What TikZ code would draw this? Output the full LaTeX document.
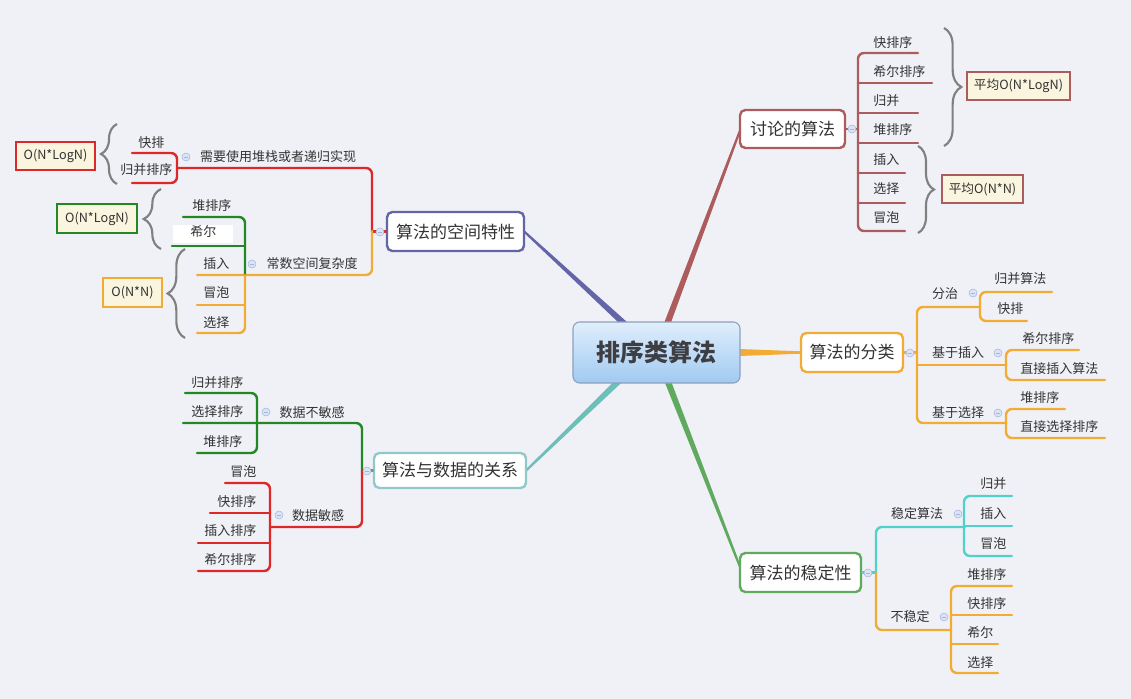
\documentclass[tikz,border=0pt]{standalone}
\usepackage{fontspec}
\setmainfont{Noto Sans CJK SC}
\usetikzlibrary{calc,decorations.pathreplacing}
\definecolor{bgc}{RGB}{240,241,247}
\definecolor{txt}{RGB}{51,51,51}
\definecolor{rtxt}{RGB}{62,62,66}
\definecolor{dred}{RGB}{172,92,92}
\definecolor{purp}{RGB}{100,100,168}
\definecolor{orng}{RGB}{242,172,52}
\definecolor{tealb}{RGB}{145,200,200}
\definecolor{teall}{RGB}{110,190,185}
\definecolor{grn}{RGB}{95,170,95}
\definecolor{red1}{RGB}{222,40,40}
\definecolor{dgrn}{RGB}{35,135,35}
\definecolor{cyan1}{RGB}{80,210,200}
\definecolor{brc}{RGB}{128,128,128}
\definecolor{yel}{RGB}{250,245,222}
\definecolor{colf}{RGB}{218,228,246}
\definecolor{cold}{RGB}{165,182,220}
\definecolor{rootb}{RGB}{140,160,190}
\definecolor{roott}{RGB}{224,238,252}
\definecolor{rootbot}{RGB}{160,202,242}
\pgfdeclarelayer{bg}
\pgfsetlayers{bg,main}
\newcommand\mytaper[5]{%
  \fill[#1] ($(#2)!#4!90:(#3)$) -- ($(#3)!#5!-90:(#2)$) -- ($(#3)!#5!90:(#2)$) -- ($(#2)!#4!-90:(#3)$) -- cycle;}
\begin{document}
\begin{tikzpicture}[x=0.75pt,y=-0.75pt,
 every node/.style={text=txt},
 leaf/.style={anchor=west,inner sep=0pt,font=\fontsize{9.75}{11}\selectfont},
 mid/.style={inner sep=0pt,font=\fontsize{9.75}{11}\selectfont},
 mbox/.style={draw,line width=1.8pt,fill=white,rounded corners=4pt,inner sep=0pt,font=\fontsize{12.75}{15}\selectfont},
 obox/.style={draw,line width=1.8pt,fill=yel,inner sep=0pt,minimum height=21pt,font=\fontsize{9.5}{11}\selectfont},
 col/.style={circle,draw=cold,fill=colf,line width=0.4pt,minimum size=6pt,inner sep=0pt,
   path picture={\draw[cold,line width=0.6pt] ([xshift=1.4pt]path picture bounding box.west) -- ([xshift=-1.4pt]path picture bounding box.east);}},
 tree/.style={line width=1.8pt,rounded corners=4.5pt,line cap=round},
 gbrace/.style={brc,line width=1.6pt,decorate,decoration={brace,amplitude=#1}},
]
\path[use as bounding box] (0,0) rectangle (1131,699);

% root and main topic boxes
\node[draw=rootb,line width=0.8pt,rounded corners=5pt,top color=roott,bottom color=rootbot,
  minimum width=125.25pt,minimum height=45.75pt,inner sep=0pt,
  font=\fontsize{18}{21}\selectfont\bfseries,text=rtxt] (root) at (656.5,352.5) {排序类算法};
\node[mbox,draw=dred,minimum width=78.75pt,minimum height=28.5pt] (disc) at (792.5,129) {讨论的算法};
\node[mbox,draw=purp,minimum width=102.75pt,minimum height=29.25pt] (space) at (455.5,231.5) {算法的空间特性};
\node[mbox,draw=orng,minimum width=76.5pt,minimum height=29.25pt] (cls) at (852,352.5) {算法的分类};
\node[mbox,draw=tealb,minimum width=114pt,minimum height=26.25pt] (data) at (450,470.5) {算法与数据的关系};
\node[mbox,draw=grn,minimum width=90.75pt,minimum height=29.25pt] (stab) at (800.5,572.5) {算法的稳定性};

\begin{pgfonlayer}{bg}
\fill[bgc] (0,0) rectangle (1131,699);
\coordinate (a1) at ($(root.north)+(8.5,8)$);
\coordinate (b1) at ($(disc.west)+(1,2)$);
\coordinate (a2) at ($(root.north)+(-26,8)$);
\coordinate (b2) at ($(space.east)+(-1,0)$);
\coordinate (a3) at ($(root.east)+(-8,0)$);
\coordinate (b3) at ($(cls.west)+(1,0)$);
\coordinate (a4) at ($(root.south)+(-32,-8)$);
\coordinate (b4) at ($(data.east)+(-1,0)$);
\coordinate (a5) at ($(root.south)+(9,-8)$);
\coordinate (b5) at ($(stab.west)+(1,-6)$);
\mytaper{dred}{a1}{b1}{2.4pt}{0.8pt}
\mytaper{purp}{a2}{b2}{2.4pt}{0.8pt}
\mytaper{orng}{a3}{b3}{2.8pt}{0.9pt}
\mytaper{teall}{a4}{b4}{2.4pt}{0.8pt}
\mytaper{grn}{a5}{b5}{2.4pt}{0.8pt}
\end{pgfonlayer}

% ---- 讨论的算法
\draw[tree,dred] (disc.east) -- (858,129);
\draw[tree,dred] (918,53) -- (858,53) -- (858,231) -- (905,231);
\foreach \y/\e in {83/932,113/918,143/918,173/905,203/905} \draw[tree,dred] (858,\y) -- (\e,\y);
\node[col] (c1) at (852,129) {};
\node[leaf] (d1) at (873,43) {快排序};
\node[leaf] (d2) at (873,72) {希尔排序};
\node[leaf] (d3) at (873,101) {归并};
\node[leaf] (d4) at (873,130) {堆排序};
\node[leaf] (d5) at (873,160) {插入};
\node[leaf] (d6) at (873,189) {选择};
\node[leaf] (d7) at (873,218) {冒泡};
\draw[gbrace=13pt] (944,28) -- (944,146);
\draw[gbrace=12pt] (918,146) -- (918,233);
\node[obox,draw=dred,minimum width=77.25pt] (avg1) at (1018.5,86) {平均O(N*LogN)};
\node[obox,draw=dred,minimum width=60.75pt] (avg2) at (982.5,189) {平均O(N*N)};

% ---- 算法的空间特性
\draw[tree,red1] (space.west) -- (372,231.5);
\draw[tree,red1] (177,168) -- (372,168) -- (372,232);
\draw[tree,orng] (372,231) -- (372,275) -- (197,275);
\draw[tree,red1] (132,153) -- (177,153) -- (177,183) -- (132,183);
\draw[tree,dgrn] (183,217) -- (245,217) -- (245,275);
\draw[tree,dgrn] (172,246) -- (245,246);
\draw[tree,orng] (245,275) -- (245,333) -- (197,333);
\draw[tree,orng] (197,305) -- (245,305);
\node[col] (c2) at (186,157) {};
\node[col] (c3) at (252,264) {};
\node[col] (c4) at (380,232) {};
\node[mid] (s0) at (278,157) {需要使用堆栈或者递归实现};
\node[leaf] (s1) at (138,143) {快排};
\node[leaf] (s2) at (120,170) {归并排序};
\node[fill=white,inner sep=0pt,minimum width=45pt,minimum height=13.5pt] (hbg) at (203,234) {};
\node[leaf] (s3) at (192,206) {堆排序};
\node[leaf] (s4) at (190,232) {希尔};
\node[leaf] (s5) at (203,264) {插入};
\node[leaf] (s6) at (203,293) {冒泡};
\node[leaf] (s7) at (203,323) {选择};
\node[mid] (s8) at (312,264) {常数空间复杂度};
\draw[gbrace=12pt] (117,184) -- (117,124);
\draw[gbrace=13pt] (161,249) -- (161,189);
\draw[gbrace=13pt] (185,338) -- (185,249);
\node[obox,draw=red1,minimum width=59.25pt] (o1) at (55.5,156) {O(N*LogN)};
\node[obox,draw=dgrn,minimum width=60pt,minimum height=21.75pt] (o2) at (97,218.5) {O(N*LogN)};
\node[obox,draw=orng,minimum width=44.25pt,minimum height=21.75pt] (o3) at (132.5,292.5) {O(N*N)};

% ---- 算法与数据的关系
\draw[tree,grn] (data.west) -- (362,470.5);
\draw[tree,dgrn] (362,471) -- (362,423) -- (183,423);
\draw[tree,red1] (362,471) -- (362,527) -- (270,527);
\draw[tree,dgrn] (185,393) -- (257,393) -- (257,453) -- (197,453);
\draw[tree,red1] (225,483) -- (270,483) -- (270,571) -- (198,571);
\draw[tree,red1] (210,513) -- (270,513);
\draw[tree,red1] (198,543) -- (270,543);
\node[col] (c5) at (367,471) {};
\node[col] (c6) at (266,412) {};
\node[col] (c7) at (279,515) {};
\node[leaf] (e1) at (191,383) {归并排序};
\node[leaf] (e2) at (191,412) {选择排序};
\node[leaf] (e3) at (203,442) {堆排序};
\node[mid] (e4) at (312,413) {数据不敏感};
\node[leaf] (e5) at (230,472) {冒泡};
\node[leaf] (e6) at (217,502) {快排序};
\node[leaf] (e7) at (204,531) {插入排序};
\node[leaf] (e8) at (204,560) {希尔排序};
\node[mid] (e9) at (318,516) {数据敏感};

% ---- 算法的分类
\draw[tree,orng] (cls.east) -- (917,352.5);
\draw[tree,orng] (980,307) -- (917,307) -- (917,423) -- (1006,423);
\draw[tree,orng] (917,365) -- (1006,365);
\draw[tree,orng] (1052,292) -- (980,292) -- (980,321) -- (1027,321);
\draw[tree,orng] (1079,350) -- (1006,350) -- (1006,380) -- (1105,380);
\draw[tree,orng] (1065,409) -- (1006,409) -- (1006,438) -- (1105,438);
\node[col] (c8) at (910,353) {};
\node[col] (c9) at (973,293) {};
\node[col] (c10) at (998,353) {};
\node[col] (c11) at (998,413) {};
\node[mid] (f1) at (945,294) {分治};
\node[leaf] (f2) at (994,279) {归并算法};
\node[leaf] (f3) at (997,309) {快排};
\node[mid] (f4) at (958,353) {基于插入};
\node[leaf] (f5) at (1022,339) {希尔排序};
\node[leaf] (f6) at (1020,369) {直接插入算法};
\node[mid] (f7) at (958,413) {基于选择};
\node[leaf] (f8) at (1020,398) {堆排序};
\node[leaf] (f9) at (1020,427) {直接选择排序};

% ---- 算法的稳定性
\draw[tree,cyan1] (stab.east) -- (876,572.5);
\draw[tree,cyan1] (876,573) -- (876,527) -- (965,527);
\draw[tree,cyan1] (1012,496) -- (964,496) -- (964,556) -- (1012,556);
\draw[tree,cyan1] (964,526) -- (1012,526);
\draw[tree,orng] (876,573) -- (876,630) -- (951,630);
\draw[tree,orng] (1012,586) -- (951,586) -- (951,673) -- (998,673);
\draw[tree,orng] (951,615) -- (1012,615);
\draw[tree,orng] (951,644) -- (998,644);
\node[col] (c12) at (868,573) {};
\node[col] (c13) at (958,514) {};
\node[col] (c14) at (944,617) {};
\node[mid] (g1) at (917,514) {稳定算法};
\node[leaf] (g2) at (980,484) {归并};
\node[leaf] (g3) at (980,514) {插入};
\node[leaf] (g4) at (980,544) {冒泡};
\node[mid] (g5) at (910,617) {不稳定};
\node[leaf] (g6) at (967,575) {堆排序};
\node[leaf] (g7) at (967,604) {快排序};
\node[leaf] (g8) at (967,633) {希尔};
\node[leaf] (g9) at (967,663) {选择};
\end{tikzpicture}
\end{document}
